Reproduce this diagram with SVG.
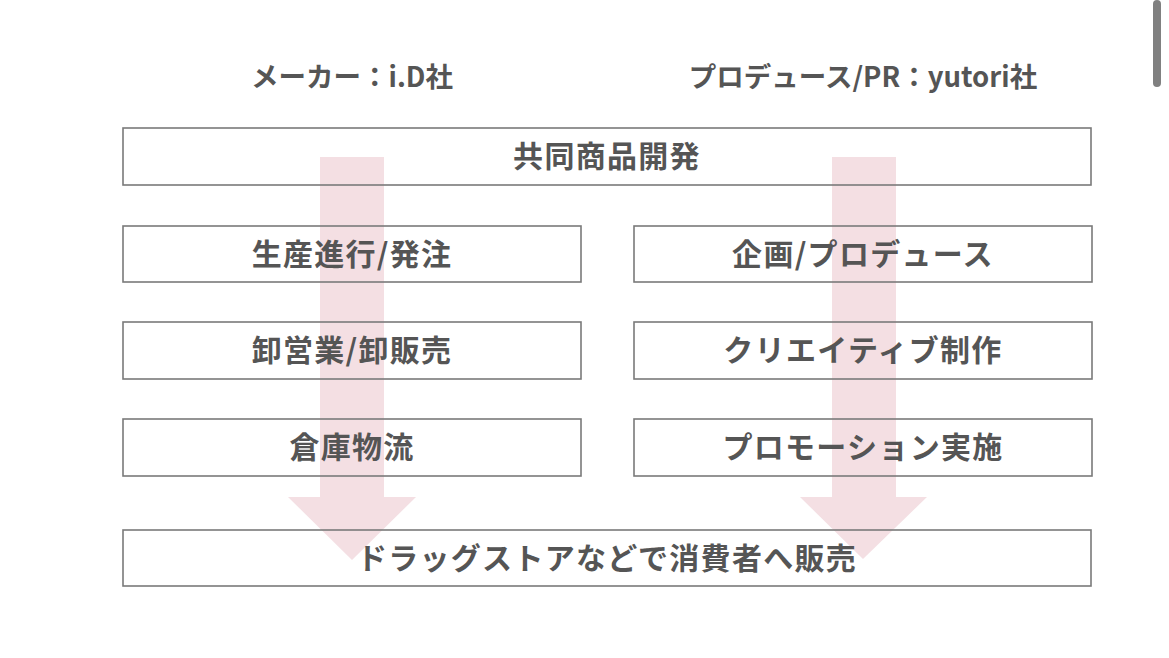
<svg xmlns="http://www.w3.org/2000/svg" width="1169" height="658" viewBox="0 0 1169 658">
<style>
.box{fill:none;stroke:#7a7a7a;stroke-width:1.6}
.t{font-family:"Noto Sans CJK JP","Noto Sans",sans-serif;font-weight:bold;font-size:30px;fill:#555;text-anchor:middle;letter-spacing:1.3px}
.h{font-family:"Noto Sans CJK JP","Noto Sans",sans-serif;font-weight:bold;font-size:27.5px;fill:#555;text-anchor:middle}
.arrow{fill:#ecc9d0;fill-opacity:0.6}
</style>
<rect width="1169" height="658" fill="#fff"/>
<rect x="1153" y="0" width="8" height="87" rx="4" fill="#808080"/>
<g id="connectors">
<path class="arrow" d="M320,157 H384 V497 H416 L352,560 L288,497 H320 Z"/>
<path class="arrow" d="M832,157 H896 V497 H927 L863,559 L800,497 H832 Z"/>
</g>
<g id="header-left"><text class="h" x="352" y="87">メーカー：i.D社</text></g>
<g id="header-right"><text class="h" x="863" y="87">プロデュース/PR：yutori社</text></g>
<g id="joint"><rect class="box" x="123" y="128" width="968" height="57"/><text class="t" x="607" y="167">共同商品開発</text></g>
<g id="l1"><rect class="box" x="123" y="226" width="458" height="56"/><text class="t" x="352" y="265">生産進行/発注</text></g>
<g id="l2"><rect class="box" x="123" y="322" width="458" height="57"/><text class="t" x="352" y="361">卸営業/卸販売</text></g>
<g id="l3"><rect class="box" x="123" y="419" width="458" height="57"/><text class="t" x="352" y="458">倉庫物流</text></g>
<g id="r1"><rect class="box" x="634" y="226" width="458" height="56"/><text class="t" x="863" y="265">企画/プロデュース</text></g>
<g id="r2"><rect class="box" x="634" y="322" width="458" height="57"/><text class="t" x="863" y="361">クリエイティブ制作</text></g>
<g id="r3"><rect class="box" x="634" y="419" width="458" height="57"/><text class="t" x="863" y="458">プロモーション実施</text></g>
<g id="sale"><rect class="box" x="123" y="530" width="968" height="56"/><text class="t" x="607" y="569">ドラッグストアなどで消費者へ販売</text></g>
</svg>
